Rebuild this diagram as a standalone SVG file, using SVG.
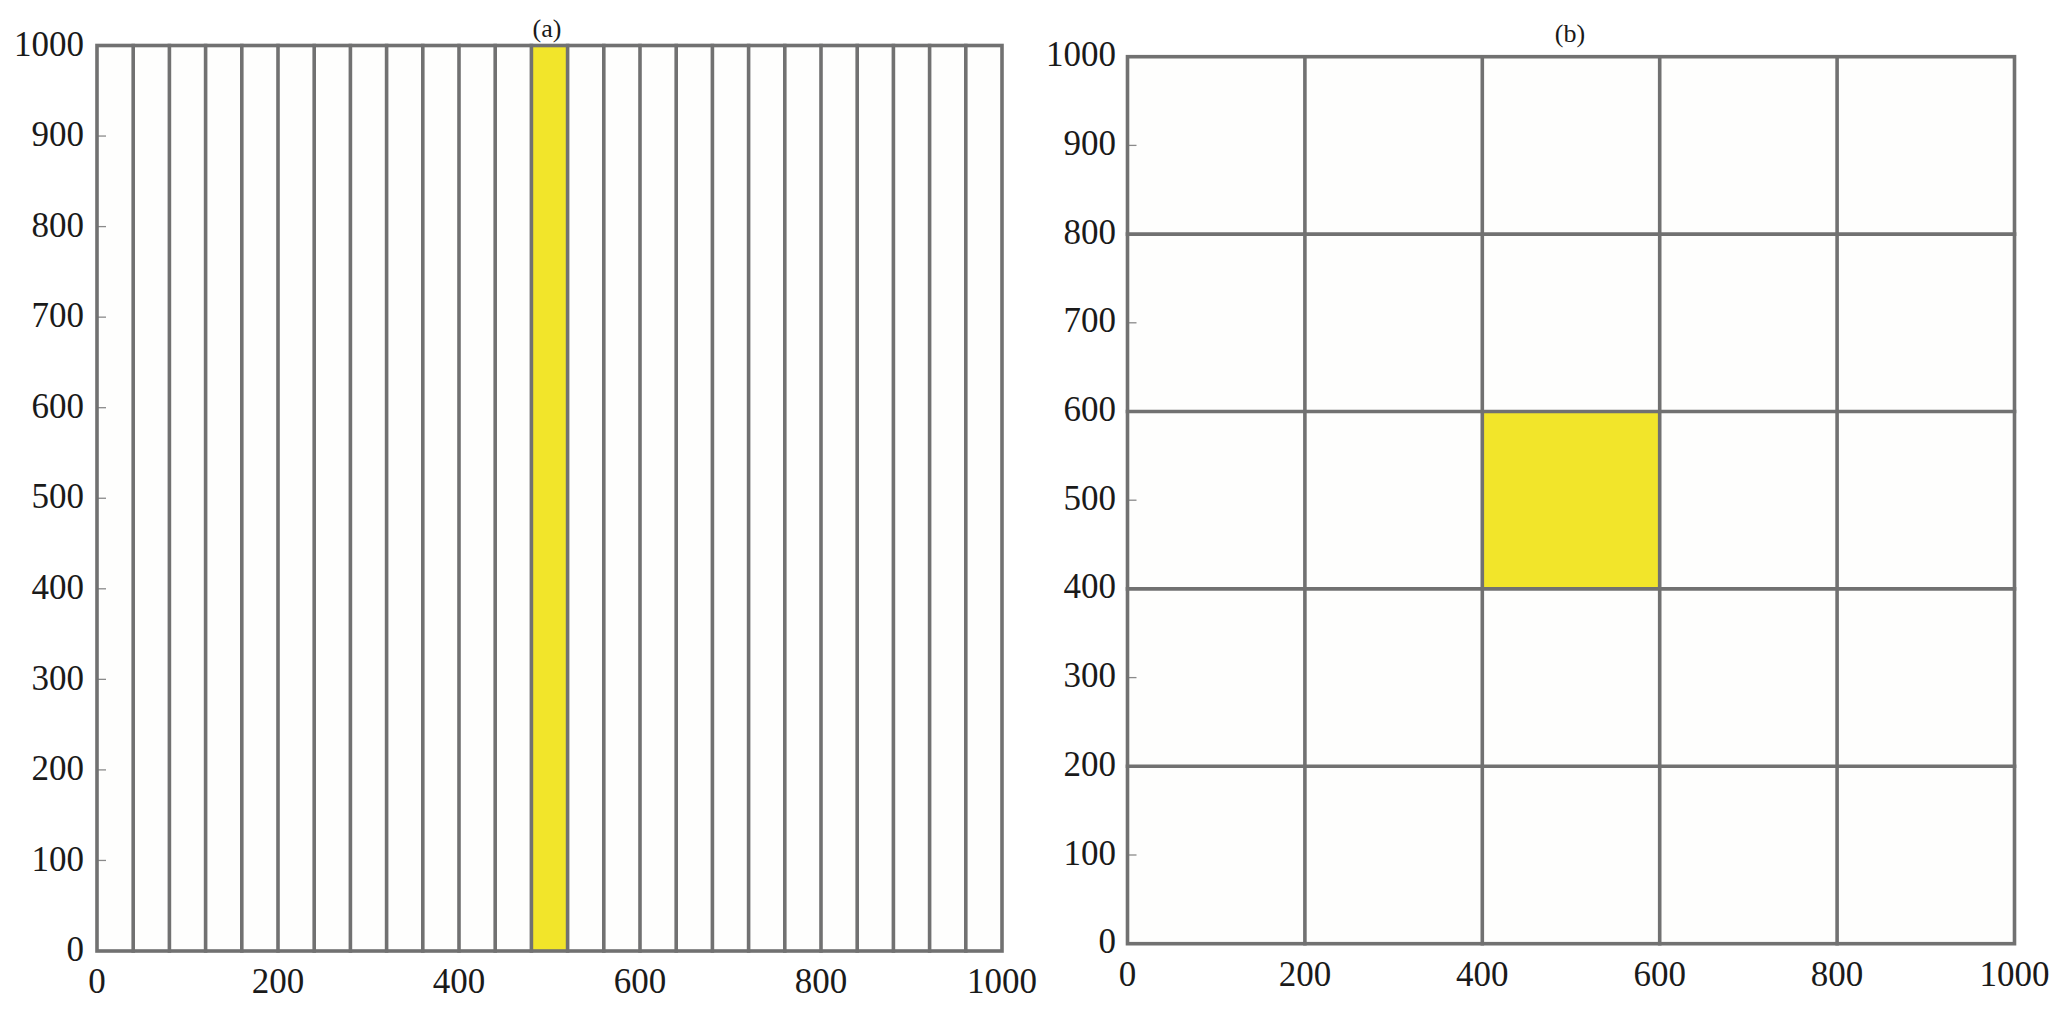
<svg xmlns="http://www.w3.org/2000/svg" width="2067" height="1012" viewBox="0 0 2067 1012">
<style>
.bg{fill:#fefefd;stroke:none}
.hl{fill:#f2e52a;stroke:none}
.g{stroke:#717171;stroke-width:3.6;fill:none;stroke-linecap:square}
.tk{stroke:#8a8a8a;stroke-width:1.3}
text{font-family:"Liberation Serif","Times New Roman",serif;fill:#1a1a1a}
.lb{font-size:35px}
.yl{text-anchor:end}
.xl{text-anchor:middle}
.tt{font-size:26px;text-anchor:middle}
</style>
<rect width="2067" height="1012" fill="#ffffff"/>
<g id="panel-a">
<rect class="bg" x="97" y="45.5" width="905" height="905.5"/>
<rect class="hl" x="531.4" y="45.5" width="36.2" height="905.5"/>
<g id="ticks-a">
<line class="tk" x1="97" y1="860.45" x2="106" y2="860.45"/>
<line class="tk" x1="97" y1="769.9" x2="106" y2="769.9"/>
<line class="tk" x1="97" y1="679.35" x2="106" y2="679.35"/>
<line class="tk" x1="97" y1="588.8" x2="106" y2="588.8"/>
<line class="tk" x1="97" y1="498.25" x2="106" y2="498.25"/>
<line class="tk" x1="97" y1="407.7" x2="106" y2="407.7"/>
<line class="tk" x1="97" y1="317.15" x2="106" y2="317.15"/>
<line class="tk" x1="97" y1="226.6" x2="106" y2="226.6"/>
<line class="tk" x1="97" y1="136.05" x2="106" y2="136.05"/>
</g>
<g id="grid-a" class="g">
<line x1="133.2" y1="45.5" x2="133.2" y2="951"/>
<line x1="169.4" y1="45.5" x2="169.4" y2="951"/>
<line x1="205.6" y1="45.5" x2="205.6" y2="951"/>
<line x1="241.8" y1="45.5" x2="241.8" y2="951"/>
<line x1="278" y1="45.5" x2="278" y2="951"/>
<line x1="314.2" y1="45.5" x2="314.2" y2="951"/>
<line x1="350.4" y1="45.5" x2="350.4" y2="951"/>
<line x1="386.6" y1="45.5" x2="386.6" y2="951"/>
<line x1="422.8" y1="45.5" x2="422.8" y2="951"/>
<line x1="459" y1="45.5" x2="459" y2="951"/>
<line x1="495.2" y1="45.5" x2="495.2" y2="951"/>
<line x1="531.4" y1="45.5" x2="531.4" y2="951"/>
<line x1="567.6" y1="45.5" x2="567.6" y2="951"/>
<line x1="603.8" y1="45.5" x2="603.8" y2="951"/>
<line x1="640" y1="45.5" x2="640" y2="951"/>
<line x1="676.2" y1="45.5" x2="676.2" y2="951"/>
<line x1="712.4" y1="45.5" x2="712.4" y2="951"/>
<line x1="748.6" y1="45.5" x2="748.6" y2="951"/>
<line x1="784.8" y1="45.5" x2="784.8" y2="951"/>
<line x1="821" y1="45.5" x2="821" y2="951"/>
<line x1="857.2" y1="45.5" x2="857.2" y2="951"/>
<line x1="893.4" y1="45.5" x2="893.4" y2="951"/>
<line x1="929.6" y1="45.5" x2="929.6" y2="951"/>
<line x1="965.8" y1="45.5" x2="965.8" y2="951"/>
<rect x="97" y="45.5" width="905" height="905.5"/>
</g>
<g id="ylabels-a" class="lb yl">
<text x="84" y="961">0</text>
<text x="84" y="870.5">100</text>
<text x="84" y="780">200</text>
<text x="84" y="689.5">300</text>
<text x="84" y="598.8">400</text>
<text x="84" y="508.3">500</text>
<text x="84" y="417.7">600</text>
<text x="84" y="327.2">700</text>
<text x="84" y="236.6">800</text>
<text x="84" y="146.1">900</text>
<text x="84" y="55.5">1000</text>
</g>
<g id="xlabels-a" class="lb xl">
<text x="97" y="993">0</text>
<text x="278" y="993">200</text>
<text x="459" y="993">400</text>
<text x="640" y="993">600</text>
<text x="821" y="993">800</text>
<text x="1002" y="993">1000</text>
</g>
<text class="tt" x="547" y="37">(a)</text>
</g>
<g id="panel-b">
<rect class="bg" x="1127.5" y="56.7" width="887" height="887"/>
<rect class="hl" x="1482.3" y="411.5" width="177.4" height="177.4"/>
<g id="ticks-b">
<line class="tk" x1="1127.5" y1="855" x2="1136.5" y2="855"/>
<line class="tk" x1="1127.5" y1="677.6" x2="1136.5" y2="677.6"/>
<line class="tk" x1="1127.5" y1="500.2" x2="1136.5" y2="500.2"/>
<line class="tk" x1="1127.5" y1="322.8" x2="1136.5" y2="322.8"/>
<line class="tk" x1="1127.5" y1="145.4" x2="1136.5" y2="145.4"/>
</g>
<g id="grid-b" class="g">
<line x1="1304.9" y1="56.7" x2="1304.9" y2="943.7"/>
<line x1="1482.3" y1="56.7" x2="1482.3" y2="943.7"/>
<line x1="1659.7" y1="56.7" x2="1659.7" y2="943.7"/>
<line x1="1837.1" y1="56.7" x2="1837.1" y2="943.7"/>
<line x1="1127.5" y1="766.3" x2="2014.5" y2="766.3"/>
<line x1="1127.5" y1="588.9" x2="2014.5" y2="588.9"/>
<line x1="1127.5" y1="411.5" x2="2014.5" y2="411.5"/>
<line x1="1127.5" y1="234.1" x2="2014.5" y2="234.1"/>
<rect x="1127.5" y="56.7" width="887" height="887"/>
</g>
<g id="ylabels-b" class="lb yl">
<text x="1116" y="953.2">0</text>
<text x="1116" y="864.5">100</text>
<text x="1116" y="775.8">200</text>
<text x="1116" y="687.1">300</text>
<text x="1116" y="598.4">400</text>
<text x="1116" y="509.7">500</text>
<text x="1116" y="420.9">600</text>
<text x="1116" y="332.3">700</text>
<text x="1116" y="243.6">800</text>
<text x="1116" y="154.9">900</text>
<text x="1116" y="66.2">1000</text>
</g>
<g id="xlabels-b" class="lb xl">
<text x="1127.5" y="986">0</text>
<text x="1304.9" y="986">200</text>
<text x="1482.3" y="986">400</text>
<text x="1659.7" y="986">600</text>
<text x="1837.1" y="986">800</text>
<text x="2014.5" y="986">1000</text>
</g>
<text class="tt" x="1570" y="42">(b)</text>
</g>
</svg>
